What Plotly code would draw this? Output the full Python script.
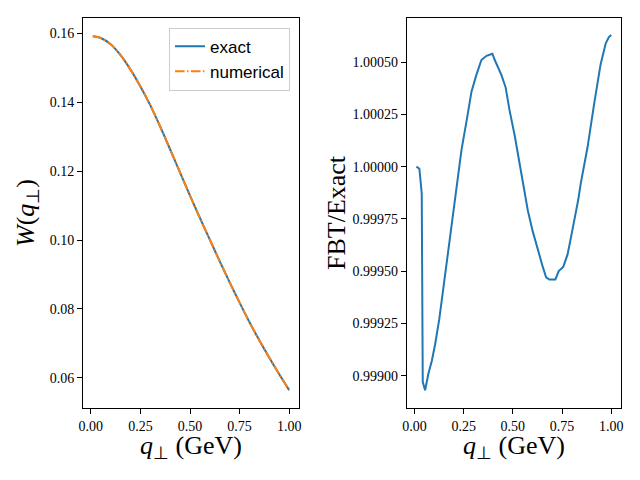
import plotly.graph_objects as go

# Left panel: W(q_perp)
q_w = [0.01, 0.05, 0.10, 0.15, 0.20, 0.25, 0.30, 0.35, 0.40, 0.45, 0.50,
       0.55, 0.60, 0.65, 0.70, 0.75, 0.80, 0.85, 0.90, 0.95, 1.00]
w_exact = [0.1592, 0.1587, 0.1569, 0.1537, 0.1495, 0.1446, 0.1391, 0.1329,
           0.1263, 0.1196, 0.1129, 0.1064, 0.1001, 0.0938, 0.0877, 0.0818,
           0.0761, 0.0708, 0.0658, 0.0610, 0.0564]
w_numerical = list(w_exact)

# Right panel: FBT / Exact ratio
q_r = [0.010, 0.025, 0.037, 0.042, 0.054, 0.071, 0.088, 0.105, 0.126, 0.143,
       0.164, 0.180, 0.189, 0.206, 0.239, 0.265, 0.290, 0.315, 0.340, 0.366,
       0.396, 0.408, 0.441, 0.463, 0.483, 0.509, 0.534, 0.568, 0.576, 0.601,
       0.626, 0.652, 0.669, 0.685, 0.716, 0.733, 0.756, 0.778, 0.795, 0.815,
       0.832, 0.845, 0.879, 0.913, 0.946, 0.972, 0.988, 1.000]
ratio = [1.00000, 0.99999, 0.99987, 0.99897, 0.99893, 0.99901, 0.99907, 0.99915,
         0.99927, 0.99939, 0.99955, 0.99966, 0.99974, 0.99984, 1.00008, 1.00022,
         1.00036, 1.00044, 1.00051, 1.00053, 1.00054, 1.00051, 1.00044, 1.00038,
         1.00027, 1.00015, 1.00001, 0.99984, 0.99979, 0.99969, 0.99960, 0.99952,
         0.99947, 0.99946, 0.99946, 0.99950, 0.99952, 0.99958, 0.99966, 0.99975,
         0.99984, 0.99992, 1.00009, 1.00030, 1.00049, 1.00059, 1.00062, 1.00063]

x_ticks = [0.0, 0.25, 0.5, 0.75, 1.0]
left_y_ticks = [0.06, 0.08, 0.10, 0.12, 0.14, 0.16]
right_y_ticks = [0.99900, 0.99925, 0.99950, 0.99975, 1.00000, 1.00025, 1.00050]

BLUE = "#1f77b4"
ORANGE = "#ff7f0e"
SERIF = "Liberation Serif"

# page body has an 8px margin: figure is 624x464, placed at (8, 8)
W, H, OFF = 624, 464, 8


def px(x):
    return (x - OFF) / W


def py(y):
    return 1 - (y - OFF) / H


fig = go.Figure()
fig.add_trace(go.Scatter(x=q_w, y=w_exact, mode="lines", name="exact",
                         line=dict(color=BLUE, width=2, shape="spline", smoothing=0.8),
                         xaxis="x", yaxis="y"))
fig.add_trace(go.Scatter(x=q_w, y=w_numerical, mode="lines", name="numerical",
                         line=dict(color=ORANGE, width=2, shape="spline", smoothing=0.8,
                                   dash="9.6px,2.4px,1.5px,2.4px"),
                         xaxis="x", yaxis="y"))
fig.add_trace(go.Scatter(x=q_r, y=ratio, mode="lines", showlegend=False,
                         line=dict(color=BLUE, width=2),
                         xaxis="x2", yaxis="y2"))

axis_common = dict(showline=True, linecolor="black", linewidth=1, mirror=True,
                   ticks="outside", ticklen=5, tickwidth=1, tickcolor="black",
                   showgrid=False, zeroline=False, automargin=False,
                   tickfont=dict(family=SERIF, size=14, color="black"))

fig.update_layout(
    width=W, height=H,
    margin=dict(l=0, r=0, t=0, b=0),
    paper_bgcolor="white", plot_bgcolor="white",
    xaxis=dict(domain=[px(83), px(299)], range=[-0.0395, 1.0495],
               tickvals=x_ticks, tickformat=".2f", anchor="y", **axis_common),
    yaxis=dict(domain=[py(408), py(18)], range=[0.0512, 0.1645],
               tickvals=left_y_ticks, tickformat=".2f", anchor="x", **axis_common),
    xaxis2=dict(domain=[px(406.7), px(621)], range=[-0.0395, 1.0495],
                tickvals=x_ticks, tickformat=".2f", anchor="y2", **axis_common),
    yaxis2=dict(domain=[py(408), py(18)], range=[0.998845, 1.000711],
                tickvals=right_y_ticks, tickformat=".5f", anchor="x2", **axis_common),
    legend=dict(x=px(290), y=py(27.7), xanchor="right", yanchor="top",
                bgcolor="rgba(255,255,255,0.8)", bordercolor="#cccccc", borderwidth=1,
                font=dict(family="Liberation Sans", size=17, color="black")),
    showlegend=True,
)

label_font = dict(family=SERIF, size=26, color="black")
fig.add_annotation(text="<i>W</i>(<i>q</i><sub>⊥</sub>)", xref="paper", yref="paper",
                   x=px(27), y=py(213), textangle=-90, showarrow=False,
                   xanchor="center", yanchor="middle", font=label_font)
fig.add_annotation(text="FBT/Exact", xref="paper", yref="paper",
                   x=px(336), y=py(213), textangle=-90, showarrow=False,
                   xanchor="center", yanchor="middle", font=label_font)
fig.add_annotation(text="<i>q</i><sub>⊥</sub> (GeV)", xref="paper", yref="paper",
                   x=px(191), y=py(447), showarrow=False,
                   xanchor="center", yanchor="middle", font=label_font)
fig.add_annotation(text="<i>q</i><sub>⊥</sub> (GeV)", xref="paper", yref="paper",
                   x=px(514), y=py(447), showarrow=False,
                   xanchor="center", yanchor="middle", font=label_font)

fig.write_html("out.html")
